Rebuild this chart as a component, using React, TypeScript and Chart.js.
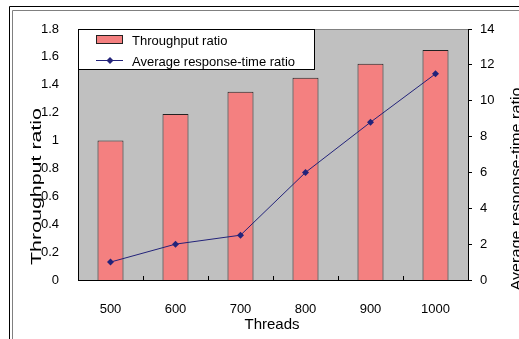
import React, { useEffect, useRef } from "react";
import { Chart, registerables } from "chart.js";

Chart.register(...registerables);

const categories = ["500", "600", "700", "800", "900", "1000"];
const throughputRatio = [1.0, 1.19, 1.35, 1.45, 1.55, 1.65];
const responseTimeRatio = [1.0, 2.0, 2.5, 6.0, 8.8, 11.5];
const leftTitle = "Throughput ratio";
const rightTitle = "Average response-time ratio";
const xTitle = "Threads";
const seriesNames = ["Throughput ratio", "Average response-time ratio"];

const BAR_COLOR = "#F48080";
const LINE_COLOR = "#23237A";
const FONT = "Arial, 'Liberation Sans', sans-serif";

const fmt = (v: any) => String(Math.round(Number(v) * 10) / 10);

const decor = {
  id: "decor",
  beforeDraw(chart: any) {
    const { ctx, chartArea: a } = chart;
    ctx.save();
    ctx.fillStyle = "#fff";
    ctx.fillRect(0, 0, chart.width, chart.height);
    ctx.lineWidth = 1;
    ctx.strokeStyle = "#000";
    ctx.beginPath();
    ctx.moveTo(9.5, chart.height);
    ctx.lineTo(9.5, 6.5);
    ctx.lineTo(chart.width, 6.5);
    ctx.stroke();
    ctx.strokeStyle = "#808080";
    ctx.beginPath();
    ctx.moveTo(12.5, chart.height);
    ctx.lineTo(12.5, 10.5);
    ctx.lineTo(chart.width, 10.5);
    ctx.stroke();
    ctx.fillStyle = "#C0C0C0";
    ctx.fillRect(a.left, a.top, a.right - a.left, a.bottom - a.top);
    ctx.restore();
  },
  afterDatasetsDraw(chart: any) {
    const { ctx, chartArea: a } = chart;
    ctx.save();
    ctx.lineWidth = 1;
    ctx.strokeStyle = "#808080";
    ctx.beginPath();
    ctx.moveTo(a.left, a.top + 0.5);
    ctx.lineTo(a.right, a.top + 0.5);
    ctx.stroke();
    ctx.strokeStyle = "#000";
    ctx.beginPath();
    ctx.moveTo(a.left + 0.5, a.top);
    ctx.lineTo(a.left + 0.5, a.bottom);
    ctx.moveTo(a.left, a.bottom + 0.5);
    ctx.lineTo(a.right + 0.5, a.bottom + 0.5);
    ctx.moveTo(a.right + 0.5, a.top);
    ctx.lineTo(a.right + 0.5, a.bottom + 0.5);
    ctx.stroke();
    const n = categories.length;
    const w = (a.right - a.left) / n;
    ctx.beginPath();
    for (let i = 1; i < n; i++) {
      const x = Math.round(a.left + w * i) + 0.5;
      ctx.moveTo(x, a.bottom);
      ctx.lineTo(x, a.bottom - 4);
    }
    ctx.stroke();

    const lx = a.left, ly = a.top, lw = 236, lh = 40;
    ctx.fillStyle = "#fff";
    ctx.fillRect(lx, ly, lw, lh);
    ctx.strokeStyle = "#000";
    ctx.strokeRect(lx + 0.5, ly + 0.5, lw, lh);
    ctx.fillStyle = BAR_COLOR;
    ctx.fillRect(lx + 18, ly + 6, 26, 8);
    ctx.strokeStyle = "#222";
    ctx.strokeRect(lx + 18.5, ly + 6.5, 26, 8);
    ctx.strokeStyle = LINE_COLOR;
    ctx.beginPath();
    ctx.moveTo(lx + 18, ly + 31.5);
    ctx.lineTo(lx + 45, ly + 31.5);
    ctx.stroke();
    ctx.fillStyle = LINE_COLOR;
    ctx.beginPath();
    const cx = lx + 32, cy = ly + 31.5;
    ctx.moveTo(cx, cy - 3.5);
    ctx.lineTo(cx + 3.5, cy);
    ctx.lineTo(cx, cy + 3.5);
    ctx.lineTo(cx - 3.5, cy);
    ctx.closePath();
    ctx.fill();
    ctx.fillStyle = "#000";
    ctx.font = `13px ${FONT}`;
    ctx.textBaseline = "middle";
    ctx.textAlign = "left";
    ctx.fillText(seriesNames[0], lx + 54, ly + 12);
    ctx.fillText(seriesNames[1], lx + 54, ly + 33);

    ctx.font = `15px ${FONT}`;
    ctx.textAlign = "center";
    ctx.fillText(xTitle, 272, 325);

    const drawRot = (text: string, x: number, y: number, len: number) => {
      ctx.save();
      ctx.translate(x, y);
      ctx.rotate(-Math.PI / 2);
      const m = ctx.measureText(text).width;
      ctx.scale(len / m, 1);
      ctx.fillText(text, 0, 0);
      ctx.restore();
    };
    ctx.font = `14px ${FONT}`;
    drawRot(leftTitle, 37.5, 186.5, 157);
    drawRot(rightTitle, 517.5, 189, 203);
    ctx.restore();
  },
};

export default function App() {
  const ref = useRef<HTMLCanvasElement | null>(null);
  useEffect(() => {
    if (!ref.current) return;
    const chart = new Chart(ref.current, {
      type: "bar",
      data: {
        labels: categories,
        datasets: [
          {
            type: "line",
            label: seriesNames[1],
            data: responseTimeRatio,
            yAxisID: "y1",
            borderColor: LINE_COLOR,
            backgroundColor: LINE_COLOR,
            borderWidth: 1,
            pointStyle: "rectRot",
            pointRadius: 3.5,
            pointBorderWidth: 0,
            tension: 0,
            order: 0,
          } as any,
          {
            type: "bar",
            label: seriesNames[0],
            data: throughputRatio,
            yAxisID: "y",
            backgroundColor: BAR_COLOR,
            borderColor: "#222",
            borderWidth: 1,
            barPercentage: 0.4,
            categoryPercentage: 1,
            order: 1,
          },
        ],
      },
      options: {
        responsive: false,
        animation: false,
        devicePixelRatio: 1,
        layout: { padding: { top: 29, left: 0, right: 0, bottom: 0 } },
        plugins: { legend: { display: false }, tooltip: { enabled: false } },
        scales: {
          x: {
            grid: { display: false },
            border: { display: false },
            ticks: { color: "#000", font: { family: FONT, size: 13 }, padding: 14 },
            afterFit: (s: any) => { s.height = 59; },
          },
          y: {
            position: "left",
            min: 0,
            max: 1.8,
            grid: { display: false },
            border: { display: false },
            ticks: { stepSize: 0.2, color: "#000", font: { family: FONT, size: 13 }, padding: 11, callback: fmt },
            afterFit: (s: any) => { s.width = 78; },
          },
          y1: {
            position: "right",
            min: 0,
            max: 14,
            grid: { drawOnChartArea: false, tickLength: 4, color: "#000", tickColor: "#000" },
            border: { display: false },
            ticks: { stepSize: 2, color: "#000", font: { family: FONT, size: 13 }, padding: 8, callback: fmt },
            afterFit: (s: any) => { s.width = 51; },
          },
        },
      },
      plugins: [decor],
    });
    return () => chart.destroy();
  }, []);
  return (
    <div style={{ position: "absolute", left: 0, top: 0, width: 519, height: 339 }}>
      <canvas ref={ref} width={519} height={339} />
    </div>
  );
}
